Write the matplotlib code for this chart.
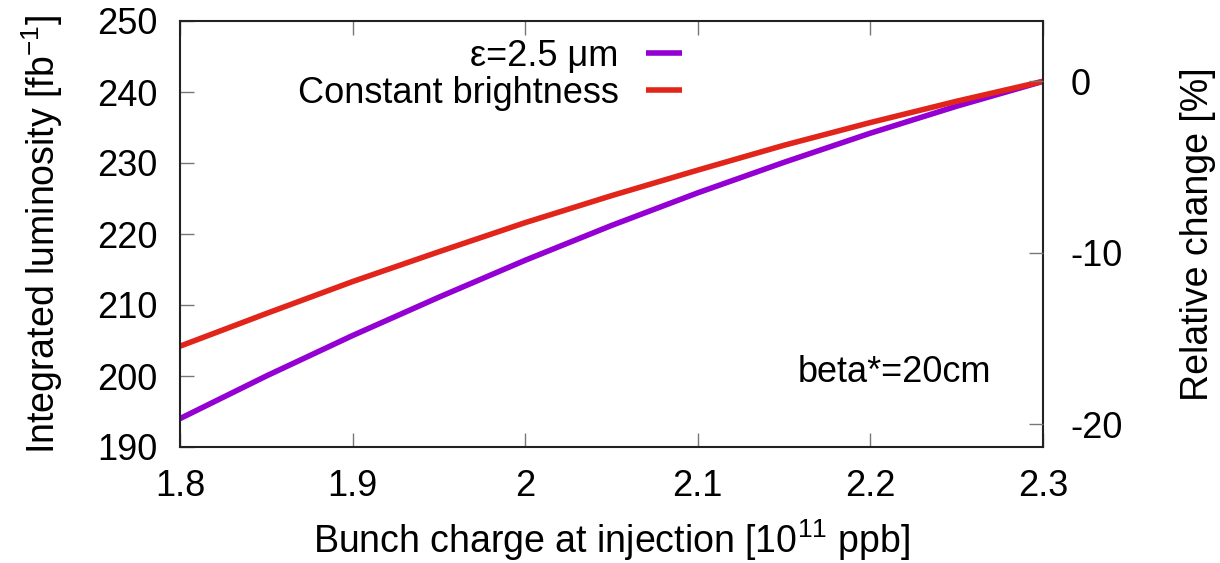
import matplotlib
matplotlib.use("Agg")
import matplotlib.pyplot as plt

plt.rcParams['font.family'] = ['Liberation Sans', 'DejaVu Sans']
plt.rcParams['mathtext.fontset'] = 'custom'
plt.rcParams['mathtext.rm'] = 'Liberation Sans'
plt.rcParams['mathtext.it'] = 'Liberation Sans:italic'
plt.rcParams['axes.unicode_minus'] = False

# Data
bunch_charge = [1.80, 1.85, 1.90, 1.95, 2.00, 2.05, 2.10, 2.15, 2.20, 2.25, 2.30]
lumi_eps25 = [194.0, 200.0, 205.7, 211.1, 216.3, 221.2, 225.8, 230.1, 234.2, 238.0, 241.5]
lumi_const_bright = [204.2, 208.8, 213.3, 217.5, 221.6, 225.4, 229.0, 232.5, 235.7, 238.7, 241.5]
series_labels = ["ε=2.5 μm", "Constant brightness"]
x_ticks = [1.8, 1.9, 2.0, 2.1, 2.2, 2.3]
x_tick_labels = ["1.8", "1.9", "2", "2.1", "2.2", "2.3"]
y_ticks = [190, 200, 210, 220, 230, 240, 250]
y2_ticks = [-20, -10, 0]

FS = 26
LFS = 27
purple = '#9400d3'
red = '#e2251a'

fig = plt.figure(figsize=(12.2, 5.63), dpi=100)
ax = fig.add_axes([180/1220, 1-447/563, (1043-180)/1220, (447-21)/563])

ax.plot(bunch_charge, lumi_eps25, color=purple, lw=4.0, label=series_labels[0], solid_capstyle='butt')
ax.plot(bunch_charge, lumi_const_bright, color=red, lw=4.0, label=series_labels[1], solid_capstyle='butt')

ax.set_xlim(1.8, 2.3)
ax.set_ylim(190, 250)
ax.set_xticks(x_ticks)
ax.set_xticklabels(x_tick_labels)
ax.set_yticks(y_ticks)
ax.tick_params(axis='both', direction='in', length=10, width=1, color='#777777',
               labelsize=FS, pad=8)
ax.tick_params(axis='x', top=True, pad=16)
ax.tick_params(axis='y', right=False, pad=16)
for s in ax.spines.values():
    s.set_linewidth(1.5)
    s.set_color('#222222')

ax.set_xlabel("Bunch charge at injection [10$^{11}$ ppb]", fontsize=LFS)
ax.set_ylabel("Integrated luminosity [fb$^{-1}$]", fontsize=LFS)
ax.xaxis.set_label_coords(0.5, (447 - 540) / 426)
ax.xaxis.label.set_va('center')
ax.yaxis.set_label_coords((42 - 180) / 863, 0.5)
ax.yaxis.label.set_va('center')

ref = lumi_const_bright[-1]
ax2 = ax.twinx()
ax2.set_ylim((190/ref - 1)*100, (250/ref - 1)*100)
ax2.set_yticks(y2_ticks)
ax2.tick_params(axis='y', direction='in', length=10, width=1, color='#777777',
                labelsize=FS, pad=20)
for s in ax2.spines.values():
    s.set_visible(False)
ax2.set_ylabel("Relative change [%]", fontsize=LFS)
ax2.yaxis.set_label_coords((1198 - 180) / 863, 0.5)
ax2.yaxis.label.set_va('center')

leg = ax.legend(loc='upper right', bbox_to_anchor=(0.598, 0.992), frameon=False,
                markerfirst=False, fontsize=FS, handlelength=1.0, handletextpad=0.75,
                labelspacing=0.05, borderaxespad=0.0)

ax.text(0.94, 0.175, "beta*=20cm", transform=ax.transAxes, ha='right', va='center', fontsize=FS)

fig.savefig("out.png", dpi=100)
